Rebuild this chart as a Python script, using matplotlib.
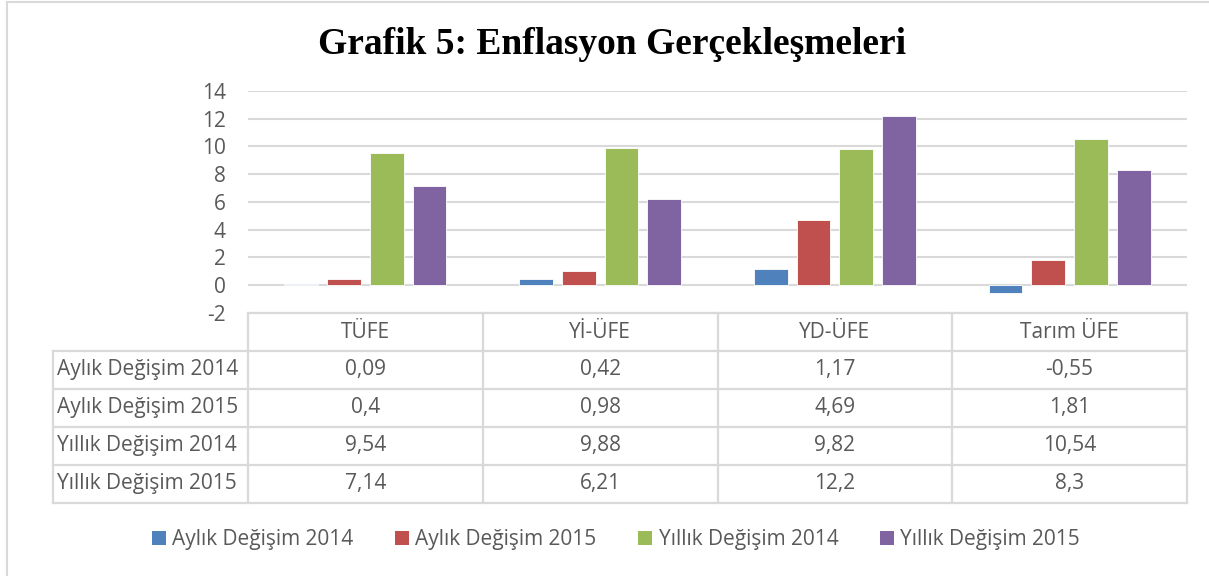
import matplotlib.pyplot as plt
from matplotlib.patches import Patch
from matplotlib.lines import Line2D
import numpy as np

# data
categories = ["TÜFE", "Yİ-ÜFE", "YD-ÜFE", "Tarım ÜFE"]
series_names = ["Aylık Değişim 2014", "Aylık Değişim 2015",
                "Yıllık Değişim 2014", "Yıllık Değişim 2015"]
aylik_2014 = [0.09, 0.42, 1.17, -0.55]
aylik_2015 = [0.4, 0.98, 4.69, 1.81]
yillik_2014 = [9.54, 9.88, 9.82, 10.54]
yillik_2015 = [7.14, 6.21, 12.2, 8.3]
yticks = [-2, 0, 2, 4, 6, 8, 10, 12, 14]

series = [aylik_2014, aylik_2015, yillik_2014, yillik_2015]
colors = ["#4F81BD", "#C0504D", "#9BBB59", "#8064A2"]

W, H = 1209, 576
TXT = "#595959"
GRID = "#D9D9D9"
FONT = "Open Sans"
FS = 15


def fx(px):
    return px / W


def fy(py):
    return 1 - py / H


fig = plt.figure(figsize=(W / 100, H / 100), dpi=100)

# bar chart area
left, right, top, bottom = 248, 1187, 91, 312.7
ax = fig.add_axes([fx(left), fy(bottom), fx(right - left), (bottom - top) / H])
x = np.arange(len(categories))
step = 0.182
width = 0.144
for i, (vals, c) in enumerate(zip(series, colors)):
    ax.bar(x + (i - 1.5) * step, vals, width, color=c, edgecolor="white",
           linewidth=0.6, zorder=3)
ax.set_xlim(-0.5, len(categories) - 0.5)
ax.set_ylim(yticks[0], yticks[-1])
ax.set_yticks(yticks)
ax.set_yticklabels([str(t) for t in yticks], fontsize=FS, color=TXT, family=FONT)
ax.tick_params(axis="y", length=0, pad=16)
ax.set_xticks([])
for s in ax.spines.values():
    s.set_visible(False)
ax.grid(axis="y", color=GRID, linewidth=1.5, zorder=0)

# data table drawn in pixel space
tab = fig.add_axes([0, 0, 1, 1])
tab.set_xlim(0, W)
tab.set_ylim(H, 0)
tab.axis("off")

col_edges = np.linspace(left, right, len(categories) + 1)
label_left = 53
row_edges = [313, 351, 389, 427, 465, 503]

for xe in col_edges:
    tab.add_line(Line2D([xe, xe], [row_edges[0], row_edges[-1]], color=GRID, lw=1.6))
tab.add_line(Line2D([label_left, label_left], [row_edges[1], row_edges[-1]], color=GRID, lw=1.6))
tab.add_line(Line2D([left, right], [row_edges[0], row_edges[0]], color=GRID, lw=1.6))
for ye in row_edges[1:]:
    tab.add_line(Line2D([label_left, right], [ye, ye], color=GRID, lw=1.6))

col_centers = (col_edges[:-1] + col_edges[1:]) / 2
hy = (row_edges[0] + row_edges[1]) / 2
for cx, cat in zip(col_centers, categories):
    tab.text(cx, hy, cat, ha="center", va="center", fontsize=FS, color=TXT, family=FONT)

for r, (name, vals) in enumerate(zip(series_names, series)):
    ry = (row_edges[r + 1] + row_edges[r + 2]) / 2
    tab.text(label_left + 4, ry, name, ha="left", va="center", fontsize=FS,
             color=TXT, family=FONT)
    for cx, v in zip(col_centers, vals):
        tab.text(cx, ry, str(v).replace(".", ","), ha="center", va="center",
                 fontsize=FS, color=TXT, family=FONT)

# outer chart border
tab.add_line(Line2D([7, W], [2, 2], color=GRID, lw=1.5))
tab.add_line(Line2D([7, 7], [2, H], color=GRID, lw=1.5))

# title
fig.text(fx(612), fy(45), "Grafik 5: Enflasyon Gerçekleşmeleri", ha="center",
         va="center", fontsize=27, fontweight="bold", family="Liberation Serif")

# legend
handles = [Patch(facecolor=c, edgecolor="none") for c in colors]
fig.legend(handles, series_names, loc="center", bbox_to_anchor=(fx(616), fy(540)),
           ncol=4, frameon=False, handlelength=0.67, handleheight=0.67,
           handletextpad=0.3, columnspacing=2.0,
           prop={"family": FONT, "size": FS}, labelcolor=TXT)

fig.savefig("out.png", dpi=100)
